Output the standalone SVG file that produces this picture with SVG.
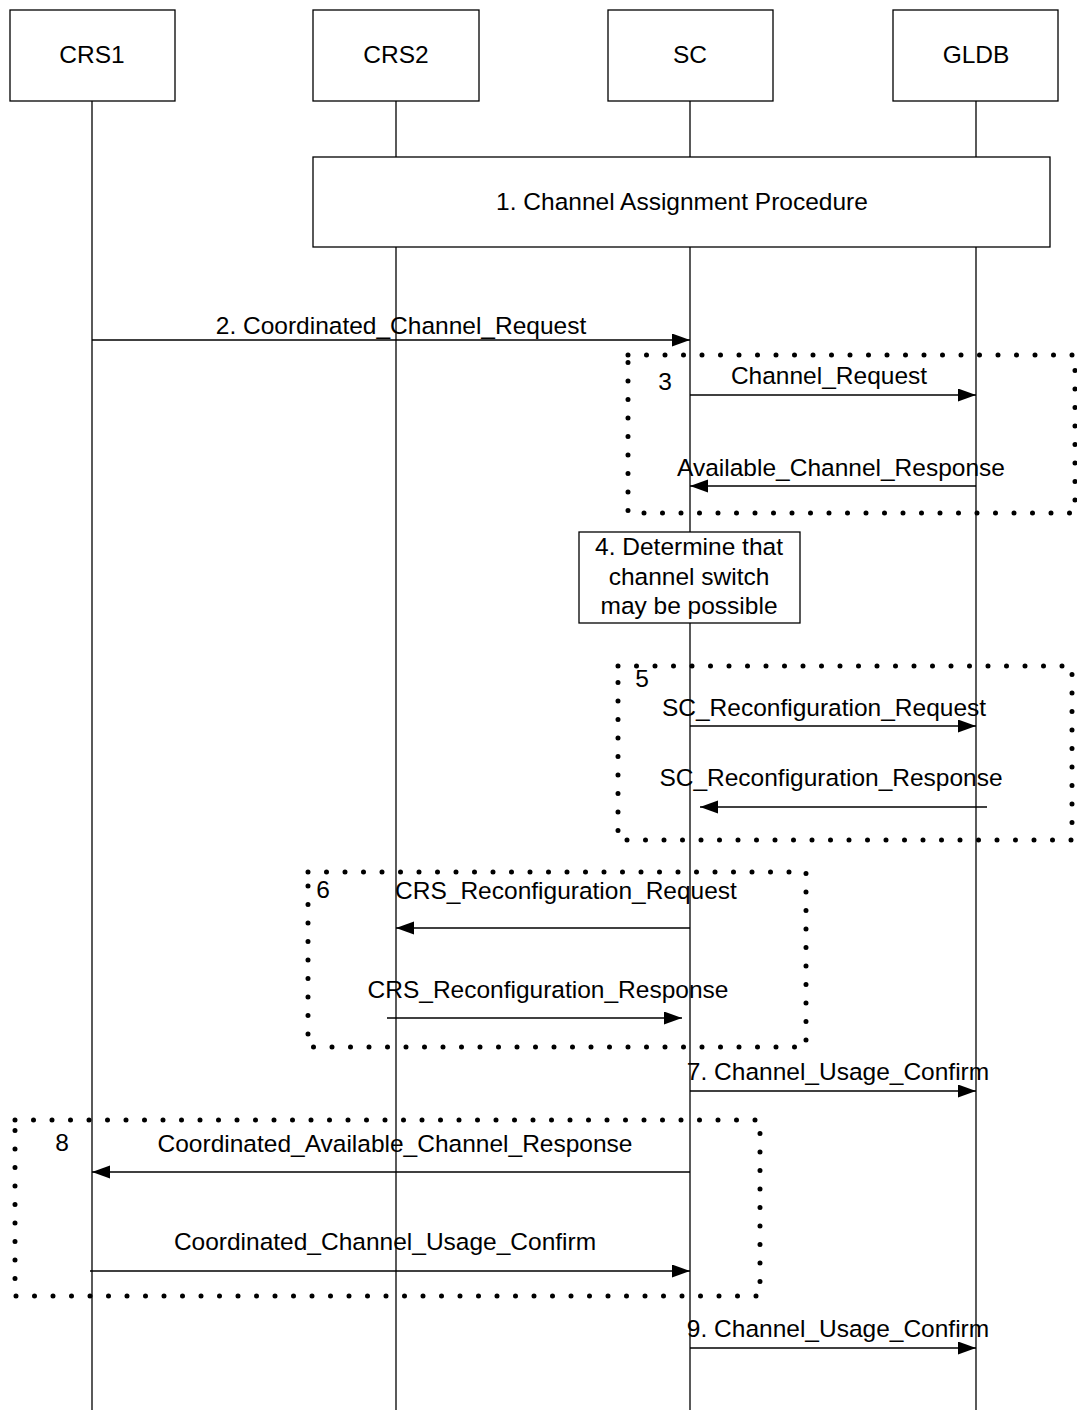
<svg xmlns="http://www.w3.org/2000/svg" width="1077" height="1410" viewBox="0 0 1077 1410">
<style>
text{font-family:"Liberation Sans",Arial,sans-serif;font-size:24.5px;fill:#000;text-anchor:middle}
.box{fill:#fff;stroke:#000;stroke-width:1.3}
.life{stroke:#000;stroke-width:1.3;fill:none}
.msg{stroke:#000;stroke-width:1.3;fill:none;marker-end:url(#ah)}
.dot{fill:none;stroke:#000;stroke-width:5;stroke-linecap:round;stroke-dasharray:0 18.5}
</style>
<defs>
<marker id="ah" markerUnits="userSpaceOnUse" markerWidth="20" markerHeight="14" refX="18" refY="6.5" orient="auto">
<path d="M0,0 L18,6.5 L0,13 Z" fill="#000"/>
</marker>
</defs>
<g id="lifelines">
<line class="life" x1="92" y1="101" x2="92" y2="1410"/>
<line class="life" x1="396" y1="101" x2="396" y2="1410"/>
<line class="life" x1="690" y1="101" x2="690" y2="1410"/>
<line class="life" x1="976" y1="101" x2="976" y2="1410"/>
</g>
<g id="CRS1"><rect class="box" x="10" y="10" width="165" height="91"/><text x="92" y="63">CRS1</text></g>
<g id="CRS2"><rect class="box" x="313" y="10" width="166" height="91"/><text x="396" y="63">CRS2</text></g>
<g id="SC"><rect class="box" x="608" y="10" width="165" height="91"/><text x="690" y="63">SC</text></g>
<g id="GLDB"><rect class="box" x="893" y="10" width="165" height="91"/><text x="976" y="63">GLDB</text></g>
<g id="step1"><rect class="box" x="313" y="157" width="737" height="90"/><text x="682" y="210">1. Channel Assignment Procedure</text></g>
<g id="step4"><rect class="box" x="579" y="532" width="221" height="91"/>
<text x="689" y="555">4. Determine that</text><text x="689" y="585">channel switch</text><text x="689" y="614">may be possible</text></g>
<g id="frames">
<rect class="dot" x="628" y="355" width="447" height="158"/>
<rect class="dot" x="618" y="666" width="454" height="174"/>
<rect class="dot" x="308" y="872" width="498" height="175"/>
<rect class="dot" x="15" y="1120" width="745" height="176"/>
<text x="665" y="390">3</text>
<text x="642" y="687">5</text>
<text x="323" y="898">6</text>
<text x="62" y="1151">8</text>
</g>
<g id="connectors">
<line class="msg" x1="92" y1="340" x2="690" y2="340"/>
<line class="msg" x1="690" y1="395" x2="976" y2="395"/>
<line class="msg" x1="976" y1="486" x2="690" y2="486"/>
<line class="msg" x1="690" y1="726" x2="976" y2="726"/>
<line class="msg" x1="987" y1="807" x2="700" y2="807"/>
<line class="msg" x1="690" y1="928" x2="396" y2="928"/>
<line class="msg" x1="387" y1="1018" x2="682" y2="1018"/>
<line class="msg" x1="690" y1="1091" x2="976" y2="1091"/>
<line class="msg" x1="690" y1="1172" x2="92" y2="1172"/>
<line class="msg" x1="90" y1="1271" x2="690" y2="1271"/>
<line class="msg" x1="690" y1="1348" x2="976" y2="1348"/>
</g>
<g id="labels">
<text x="401" y="334">2. Coordinated_Channel_Request</text>
<text x="829" y="384">Channel_Request</text>
<text x="841" y="476">Available_Channel_Response</text>
<text x="824" y="716">SC_Reconfiguration_Request</text>
<text x="831" y="786">SC_Reconfiguration_Response</text>
<text x="566" y="899">CRS_Reconfiguration_Request</text>
<text x="548" y="998">CRS_Reconfiguration_Response</text>
<text x="838" y="1080">7. Channel_Usage_Confirm</text>
<text x="395" y="1152">Coordinated_Available_Channel_Response</text>
<text x="385" y="1250">Coordinated_Channel_Usage_Confirm</text>
<text x="838" y="1337">9. Channel_Usage_Confirm</text>
</g>
</svg>
